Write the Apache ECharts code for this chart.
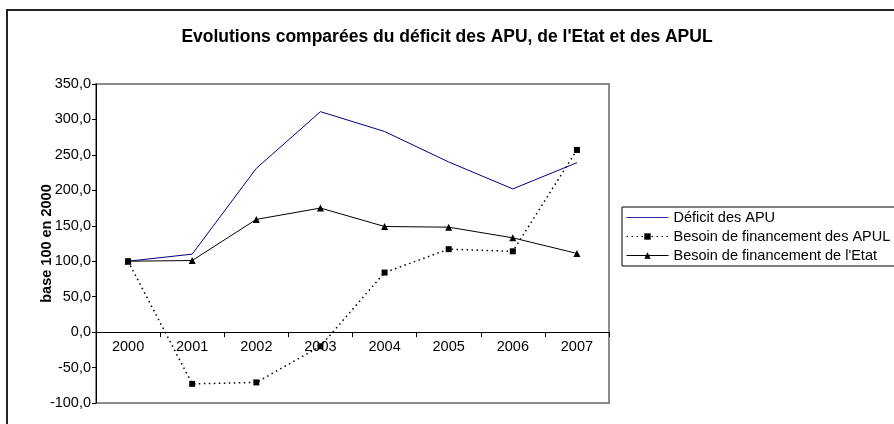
<!DOCTYPE html>
<html>
<head>
<meta charset="utf-8">
<script src="https://cdn.jsdelivr.net/npm/echarts@6/dist/echarts.min.js"></script>
<style>
  html, body { margin: 0; padding: 0; background: #fff; }
  #chart { width: 894px; height: 424px; }
</style>
</head>
<body>
<div id="chart"></div>
<script>
// données (base 100 en 2000)
const annees = ['2000', '2001', '2002', '2003', '2004', '2005', '2006', '2007'];
const deficitAPU = [100, 110, 231, 311, 283, 240, 202, 239];
const besoinAPUL = [100, -73, -71, -20, 84, 117, 114, 257];
const besoinEtat = [100, 101, 159, 175, 149, 148, 133, 111];
const nomsSeries = ['Déficit des APU', 'Besoin de financement des APUL', "Besoin de financement de l'Etat"];
const yMin = -100, yMax = 350, yPas = 50;

const police = 'Arial, "Liberation Sans", sans-serif';
const taille = 14.5;

// zone de tracé
const gTop = 84, gBottom = 21;
const hauteur = 424 - gTop - gBottom;
// l'axe des catégories croise l'axe des valeurs en 0
const decalageZero = -hauteur * (0 - yMin) / (yMax - yMin);

const myChart = echarts.init(document.getElementById('chart'), null, { renderer: 'canvas' });

const option = {
    backgroundColor: '#ffffff',
    animation: false,
    title: {
        text: "Evolutions comparées du déficit des APU, de l'Etat et des APUL",
        left: 'center',
        top: 23,
        textStyle: { fontFamily: police, fontSize: 17.5, fontWeight: 'bold', color: '#000' }
    },
    graphic: [{
        type: 'rect',
        z: -10,
        shape: { x: 7, y: 10, width: 1000, height: 1000 },
        style: { fill: 'none', stroke: '#222', lineWidth: 2 }
    }],
    legend: {
        orient: 'vertical',
        left: 622,
        top: 207,
        padding: [3, 12, 3, 4],
        itemGap: 4,
        itemWidth: 42,
        itemHeight: 8,
        borderColor: '#000',
        borderWidth: 1,
        backgroundColor: '#fff',
        lineStyle: { width: 1 },
        textStyle: { fontFamily: police, fontSize: taille, color: '#000' },
        data: [
            // trait seul pour le déficit des APU
            {
                name: nomsSeries[0],
                icon: 'path://M0,0L42,0L42,1.2L0,1.2Z',
                itemStyle: { color: '#2a2aa8', borderWidth: 0, borderColor: '#2a2aa8' }
            },
            { name: nomsSeries[1] },
            { name: nomsSeries[2] }
        ]
    },
    grid: {
        left: 96,
        right: 285,
        top: gTop,
        bottom: gBottom,
        show: true,
        borderColor: '#8c8c8c',
        borderWidth: 2,
        containLabel: false
    },
    xAxis: {
        type: 'category',
        data: annees,
        boundaryGap: true,
        offset: decalageZero,
        axisLine: { onZero: false, lineStyle: { color: '#000', width: 1 } },
        axisTick: { show: true, interval: 0, length: 5, lineStyle: { color: '#000' } },
        axisLabel: { margin: 7, fontFamily: police, fontSize: taille, color: '#000' },
        splitLine: { show: false }
    },
    yAxis: {
        type: 'value',
        min: yMin,
        max: yMax,
        interval: yPas,
        name: 'base 100 en 2000',
        nameLocation: 'middle',
        nameGap: 42,
        nameMoveOverlap: false,
        nameRotate: 90,
        nameTextStyle: { fontFamily: police, fontSize: taille, fontWeight: 'bold', color: '#000' },
        axisLine: { show: true, lineStyle: { color: '#000', width: 1 } },
        axisTick: { show: true, length: 4, lineStyle: { color: '#000' } },
        axisLabel: {
            margin: 5,
            fontFamily: police,
            fontSize: taille,
            color: '#000',
            formatter: v => v.toFixed(1).replace('.', ',')
        },
        splitLine: { show: false }
    },
    series: [
        {
            name: nomsSeries[0],
            type: 'line',
            data: deficitAPU,
            showSymbol: false,
            symbol: 'none',
            lineStyle: { color: '#000080', width: 1 },
            itemStyle: { color: '#000080' }
        },
        {
            name: nomsSeries[1],
            type: 'line',
            data: besoinAPUL,
            symbol: 'rect',
            symbolSize: 6,
            lineStyle: { color: '#000', width: 1.5, type: [1.5, 3.5] },
            itemStyle: { color: '#000' }
        },
        {
            name: nomsSeries[2],
            type: 'line',
            data: besoinEtat,
            symbol: 'triangle',
            symbolSize: 7,
            lineStyle: { color: '#000', width: 1 },
            itemStyle: { color: '#000' }
        }
    ]
};

//affichage
myChart.setOption(option);
</script>
</body>
</html>
